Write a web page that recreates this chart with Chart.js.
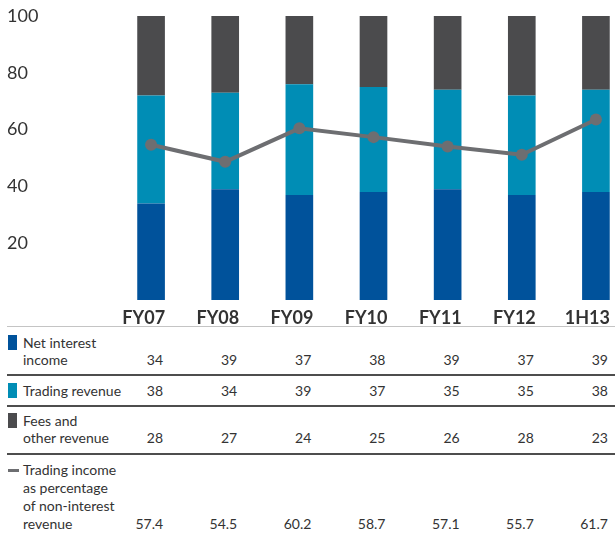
<!DOCTYPE html>
<html>
<head>
<meta charset="utf-8">
<script src="https://cdn.jsdelivr.net/npm/chart.js@4.4.1/dist/chart.umd.min.js"></script>
<style>
  body { margin: 0; width: 616px; height: 533px; overflow: hidden; background: #fff; position: relative; font-family: Lato, sans-serif; color: #333; }
  #chart { position: absolute; left: 0; top: 0; }
  .rule { position: absolute; left: 7px; width: 608px; }
  .txt { position: absolute; left: 23px; font-size: 14px; line-height: 17px; white-space: nowrap; }
  .sw { position: absolute; left: 8px; width: 9px; height: 15px; }
  .num { position: absolute; width: 60px; font-size: 14px; line-height: 17px; text-align: right; }
</style>
</head>
<body>
<canvas id="chart" width="639" height="326"></canvas>
<div id="table"></div>
<script>
const periods = ['FY07', 'FY08', 'FY09', 'FY10', 'FY11', 'FY12', '1H13'];
// values printed in the table
const netInterest = [34, 39, 37, 38, 39, 37, 39];
const tradingRevenue = [38, 34, 39, 37, 35, 35, 38];
const feesOther = [28, 27, 24, 25, 26, 28, 23];
const tradingShare = [57.4, 54.5, 60.2, 58.7, 57.1, 55.7, 61.7];
// bar heights as drawn (the 1H13 bar in the original doesn't match its table)
const netInterestBars = [34, 39, 37, 38, 39, 37, 38];
const tradingRevenueBars = [38, 34, 39, 37, 35, 35, 36];
const feesOtherBars = [28, 27, 24, 25, 26, 28, 26];
const yTicks = [20, 40, 60, 80, 100];

const blue = '#00529b', teal = '#008db5', dark = '#4b4b4d', grey = '#6d6e71';

const ctx = document.getElementById('chart').getContext('2d');
const chart = new Chart(ctx, {
  type: 'bar',
  data: {
    labels: periods,
    datasets: [
      { type: 'line', label: 'Trading income as percentage of non-interest revenue', data: tradingShare,
        yAxisID: 'y2', stack: 'line', borderColor: grey, backgroundColor: grey, borderWidth: 4,
        pointRadius: 6, pointBackgroundColor: grey, pointBorderWidth: 0, tension: 0, order: 0 },
      { label: 'Net interest income', data: netInterestBars, backgroundColor: blue, stack: 's', order: 1 },
      { label: 'Trading revenue', data: tradingRevenueBars, backgroundColor: teal, stack: 's', order: 1 },
      { label: 'Fees and other revenue', data: feesOtherBars, backgroundColor: dark, stack: 's', order: 1 }
    ]
  },
  options: {
    responsive: false,
    animation: false,
    layout: { padding: { left: 7, top: 16, right: 0, bottom: 0 } },
    datasets: { bar: { categoryPercentage: 1, barPercentage: 0.373 } },
    plugins: { legend: { display: false }, tooltip: { enabled: false } },
    scales: {
      x: {
        stacked: true,
        grid: { display: false, drawTicks: false },
        border: { display: false },
        ticks: { color: '#333', padding: 7, align: 'end', labelOffset: 14,
                 font: { family: 'Lato', size: 18, weight: 'bold' } },
        afterFit: s => { s.height = 26; }
      },
      y: {
        stacked: true, min: 0, max: 100,
        grid: { display: false, drawTicks: false },
        border: { display: false },
        ticks: {
          stepSize: 20, crossAlign: 'far', color: '#333', font: { family: 'Lato', size: 18 },
          callback: v => yTicks.includes(v) ? v : ''
        },
        afterFit: s => { s.width = 107; }
      },
      y2: { display: false, min: 31, max: 79.3 }
    }
  }
});

// table under the chart, columns follow the x scale
const rows = [
  { name: ['Net interest', 'income'], data: netInterest, color: blue, top: 334, lh: 17 },
  { name: ['Trading revenue'], data: tradingRevenue, color: teal, top: 381.5, lh: 17 },
  { name: ['Fees and', 'other revenue'], data: feesOther, color: dark, top: 411.5, lh: 17 },
  { name: ['Trading income', 'as percentage', 'of non-interest', 'revenue'], data: tradingShare, color: grey, top: 461, lh: 18, line: true }
];
const table = document.getElementById('table');
let html = '<div class="rule" style="top:326px;height:1px;background:#c4c4c4"></div>';
[374, 405, 453].forEach(y => { html += `<div class="rule" style="top:${y}px;height:2px;background:#4d4d4d"></div>`; });
rows.forEach(r => {
  html += r.line
    ? `<div class="sw" style="top:${r.top + r.lh / 2 - 1.5}px;height:3px;width:11px;background:${r.color}"></div>`
    : `<div class="sw" style="top:${r.top + r.lh / 2 - 7.5}px;background:${r.color}"></div>`;
  html += `<div class="txt" style="top:${r.top}px;line-height:${r.lh}px">${r.name.join('<br>')}</div>`;
  const lastTop = r.top + (r.name.length - 1) * r.lh;
  r.data.forEach((v, i) => {
    const right = chart.scales.x.getPixelForValue(i) + 12;
    html += `<div class="num" style="top:${lastTop}px;line-height:${r.lh}px;left:${right - 60}px">${r.line ? v.toFixed(1) : v}</div>`;
  });
});
table.innerHTML = html;
</script>
</body>
</html>
